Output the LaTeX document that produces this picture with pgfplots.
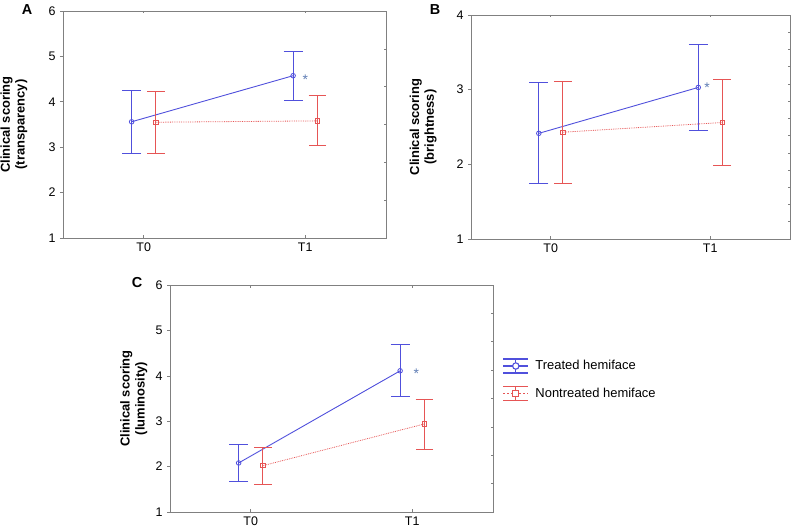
\documentclass[border=0pt]{standalone}
\usepackage{fontspec}
\setmainfont{Liberation Sans}
\usepackage{pgfplots}
\usepackage{pgfplotstable}
\pgfplotsset{compat=1.18}
\definecolor{tblue}{RGB}{80,80,220}
\definecolor{tred}{RGB}{230,85,85}
\definecolor{axgray}{RGB}{128,128,128}
\definecolor{starblue}{RGB}{95,125,180}

% x y ep em
\pgfplotstableread{
x y ep em
-0.075 3.56 0.68 0.69
0.925 4.575 0.535 0.545
}\Atreat
\pgfplotstableread{
x y ep em
0.075 3.55 0.69 0.69
1.075 3.58 0.55 0.54
}\Anon
\pgfplotstableread{
x y ep em
-0.075 2.415 0.685 0.675
0.925 3.03 0.58 0.58
}\Btreat
\pgfplotstableread{
x y ep em
0.075 2.43 0.685 0.68
1.075 2.56 0.58 0.58
}\Bnon
\pgfplotstableread{
x y ep em
-0.075 2.08 0.40 0.41
0.925 4.11 0.57 0.57
}\Ctreat
\pgfplotstableread{
x y ep em
0.075 2.02 0.40 0.41
1.075 2.94 0.55 0.56
}\Cnon

\pgfplotsset{
  panel/.style={
    scale only axis,
    anchor=south west,
    xmin=-0.5, xmax=1.5,
    xtick={0,1}, xticklabels={T0,T1},
    ytick pos=left, xtick pos=bottom,
    tick align=outside,
    major tick length=3bp,
    axis line style={axgray, line width=0.8bp},
    tick style={axgray, line width=0.6bp},
    xtick style={draw=none},
    tick label style={font=\fontsize{12.5}{14}\selectfont},
    /pgf/number format/assume math mode=true,
    ylabel style={align=center, font=\bfseries\fontsize{13}{15}\selectfont, anchor=center},
    yticklabel style={xshift=-1bp},
    xticklabel style={yshift=2bp},
  },
  overlay/.style={
    scale only axis,
    anchor=south west,
    xmin=-0.5, xmax=1.5,
    xtick={0,1}, xticklabels={},
    yticklabels={},
    ytick pos=right, xtick pos=both,
    tick align=inside,
    major tick length=2.5bp,
    axis line style={axgray, line width=0.8bp},
    tick style={axgray, line width=0.6bp},
  },
  treat/.style={tblue, line width=0.9bp, mark=o, mark size=2.3bp, mark options={solid, draw=tblue, fill=white, line width=0.8bp},
    error bars/y dir=both, error bars/y explicit,
    error bars/error bar style={line width=0.9bp, draw=tblue, solid},
    error bars/error mark options={draw=tblue, mark size=9.5bp, line width=0.9bp, rotate=90, solid}},
  nontreat/.style={tred, line width=0.8bp, densely dotted, mark=square, mark size=2.2bp, mark options={solid, draw=tred, fill=white, line width=0.8bp},
    error bars/y dir=both, error bars/y explicit,
    error bars/error bar style={line width=0.8bp, draw=tred, solid},
    error bars/error mark options={draw=tred, mark size=8.8bp, line width=0.8bp, rotate=90, solid}},
}

\begin{document}
\begin{tikzpicture}
\useasboundingbox (0,0) rectangle (792bp,527bp);

% ---------- Panel A ----------
\begin{axis}[overlay, at={(63bp,289bp)}, width=323bp, height=227bp, ymin=0, ymax=6, ytick={1,...,5}]
\end{axis}
\begin{axis}[panel, at={(63bp,289bp)}, width=323bp, height=227bp,
  ymin=1, ymax=6, ytick={1,...,6},
  ylabel={Clinical scoring\\(transparency)},
  ylabel style={at={(axis description cs:-0.152,0.5)}}]
\addplot+[treat] table[x=x, y=y, y error plus=ep, y error minus=em] {\Atreat};
\addplot+[nontreat] table[x=x, y=y, y error plus=ep, y error minus=em] {\Anon};
\node[starblue, font=\fontsize{14}{14}\selectfont] at (axis cs:1.0,4.48) {*};
\end{axis}
\node[font=\bfseries\fontsize{14.5}{16}\selectfont] at (27bp,517bp) {A};

% ---------- Panel B ----------
\begin{axis}[overlay, at={(471bp,288bp)}, width=319bp, height=224bp, ymin=0, ymax=13, ytick={1,...,12}]
\end{axis}
\begin{axis}[panel, at={(471bp,288bp)}, width=319bp, height=224bp,
  ymin=1, ymax=4, ytick={1,...,4},
  ylabel={Clinical scoring\\(brightness)},
  ylabel style={at={(axis description cs:-0.150,0.5)}}]
\addplot+[treat] table[x=x, y=y, y error plus=ep, y error minus=em] {\Btreat};
\addplot+[nontreat] table[x=x, y=y, y error plus=ep, y error minus=em] {\Bnon};
\node[starblue, font=\fontsize{14}{14}\selectfont] at (axis cs:0.98,3.03) {*};
\end{axis}
\node[font=\bfseries\fontsize{14.5}{16}\selectfont] at (435bp,517bp) {B};

% ---------- Panel C ----------
\begin{axis}[overlay, at={(170bp,15bp)}, width=323bp, height=227bp, ymin=0, ymax=8, ytick={1,...,7}]
\end{axis}
\begin{axis}[panel, at={(170bp,15bp)}, width=323bp, height=227bp,
  ymin=1, ymax=6, ytick={1,...,6},
  ylabel={Clinical scoring\\(luminosity)},
  ylabel style={at={(axis description cs:-0.112,0.5)}},
  legend style={at={(axis description cs:1.02,0.583)}, anchor=west, draw=none, fill=none,
    font=\fontsize{13}{15}\selectfont, row sep=12bp,
    nodes={inner sep=1.5bp}},
  legend cell align=left]
\addplot+[forget plot, treat] table[x=x, y=y, y error plus=ep, y error minus=em] {\Ctreat};
\addplot+[forget plot, nontreat] table[x=x, y=y, y error plus=ep, y error minus=em] {\Cnon};
\node[starblue, font=\fontsize{14}{14}\selectfont] at (axis cs:1.025,4.04) {*};
\addlegendimage{legend image code/.code={
  \draw[tblue, line width=1.3bp] (0bp,7bp) -- (25bp,7bp);
  \draw[tblue, line width=1.3bp] (0bp,-7bp) -- (25bp,-7bp);
  \draw[tblue, line width=1.3bp] (12.5bp,-7bp) -- (12.5bp,7bp);
  \draw[tblue, line width=1.3bp] (0bp,0bp) -- (25bp,0bp);
  \draw[tblue, line width=1.1bp, fill=white] (12.5bp,0bp) circle (3.2bp);
}}
\addlegendentry{\hspace{5bp}Treated hemiface}
\addlegendimage{legend image code/.code={
  \draw[tred, line width=1.3bp] (0bp,7bp) -- (25bp,7bp);
  \draw[tred, line width=1.3bp] (0bp,-7bp) -- (25bp,-7bp);
  \draw[tred, line width=1.3bp] (12.5bp,-7bp) -- (12.5bp,7bp);
  \draw[tred, line width=1.1bp, dash pattern=on 2bp off 2bp] (0bp,0bp) -- (25bp,0bp);
  \draw[tred, line width=1.1bp, fill=white] (9.5bp,-3bp) rectangle (15.5bp,3bp);
}}
\addlegendentry{\hspace{5bp}Nontreated hemiface}
\end{axis}
\node[font=\bfseries\fontsize{14.5}{16}\selectfont] at (137bp,244bp) {C};

\end{tikzpicture}
\end{document}
